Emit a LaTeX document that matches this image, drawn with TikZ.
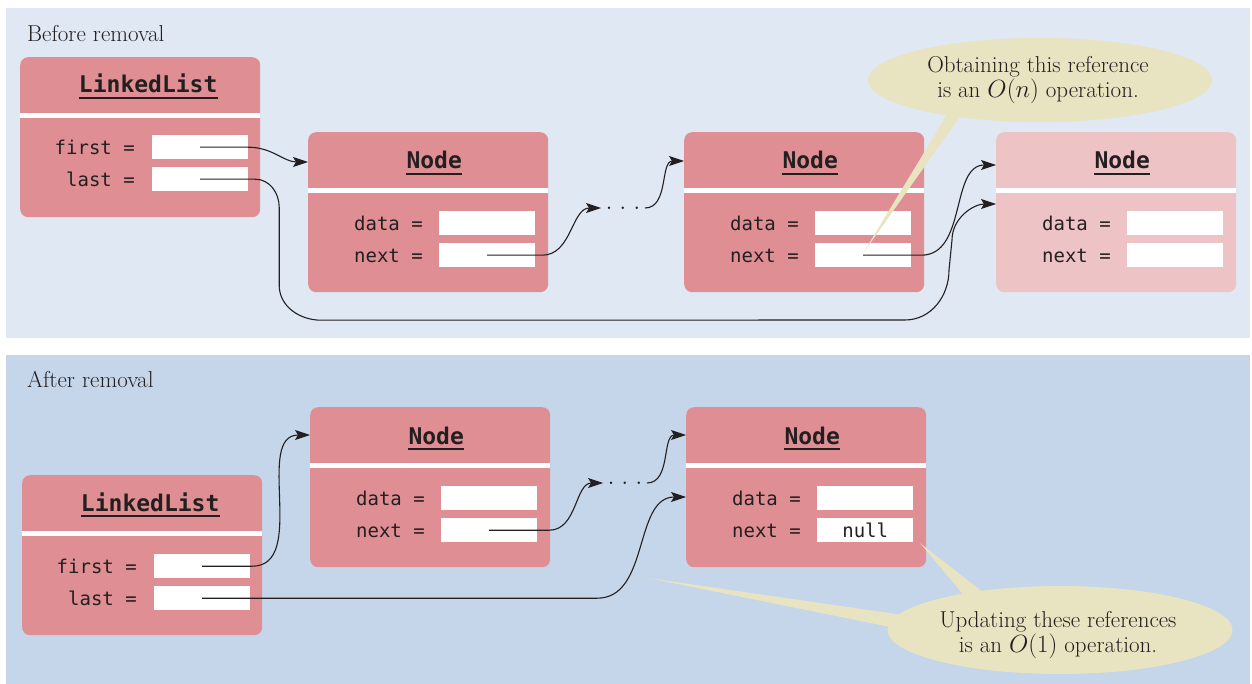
\documentclass[tikz,border=0pt]{standalone}
\usepackage{fontspec}
\setmonofont{DejaVu Sans Mono}
\usepackage{tikz}
\usetikzlibrary{positioning, shapes.geometric, arrows.meta, calc}
\definecolor{panelTop}{HTML}{E0E8F3}
\definecolor{panelBottom}{HTML}{C5D5EA}
\definecolor{boxRed}{HTML}{DF8F94}
\definecolor{boxPale}{HTML}{EEC3C5}
\definecolor{calloutTan}{HTML}{E8E3C1}
\definecolor{ink}{HTML}{231F20}

\begin{document}
\begin{tikzpicture}[x=1pt, y=-1pt,
  objbox/.style={fill=boxRed, rounded corners=8pt, minimum width=240pt,
                 minimum height=160pt, inner sep=0pt, anchor=north west},
  ghostbox/.style={objbox, fill=boxPale},
  classname/.style={font=\ttfamily\bfseries\fontsize{23}{26}\selectfont,
                    text=ink, inner sep=0pt, anchor=base},
  fieldname/.style={font=\ttfamily\fontsize{19}{22}\selectfont,
                    text=ink, inner sep=0pt, anchor=base east},
  slot/.style={fill=white, minimum width=96pt, minimum height=24pt, inner sep=0pt,
               anchor=north west, font=\ttfamily\fontsize{19}{22}\selectfont, text=ink},
  pointer/.style={draw=ink, line width=1.1pt, -{Stealth[length=15pt, width=10pt, inset=3pt]}},
  bubble/.style={fill=calloutTan, ellipse, inner sep=0pt},
  bubbletext/.style={font=\fontsize{23}{25.5}\selectfont, text=ink, align=center, inner sep=0pt},
  caption/.style={font=\fontsize{23}{26}\selectfont, text=ink, anchor=base west, inner sep=0pt},
  ellipsis/.style={font=\fontsize{30}{30}\selectfont, text=ink, inner sep=0pt}
]
  \useasboundingbox (0,0) rectangle (1252,684);
  \fill[panelTop] (6,8) rectangle (1250,338);
  \fill[panelBottom] (6,355) rectangle (1250,684);

  % before removal
  \node[caption] (capA) at (27,42) {Before removal};
  \node[objbox] (listA) at (20,57) {};
  \node[objbox] (nodeA1) at (308,132) {};
  \node[objbox] (nodeA2) at (684,132) {};
  \node[ghostbox] (nodeA3) at (996,132) {};

  % after removal
  \node[caption] (capB) at (27,387) {After removal};
  \node[objbox] (listB) at (22,475) {};
  \node[objbox] (nodeB1) at (310,407) {};
  \node[objbox] (nodeB2) at (686,407) {};

  \foreach \b in {listA,nodeA1,nodeA2,nodeA3,listB,nodeB1,nodeB2}{
    \fill[white] ([yshift=-56pt]\b.north west) rectangle ([yshift=-61pt]\b.north east);
  }

  \node[classname] (tListA) at ($(listA.north)+(8,36)$) {LinkedList};
  \node[classname] (tNodeA1) at ($(nodeA1.north)+(6,37)$) {Node};
  \node[classname] (tNodeA2) at ($(nodeA2.north)+(6,37)$) {Node};
  \node[classname] (tNodeA3) at ($(nodeA3.north)+(6,37)$) {Node};
  \node[classname] (tListB) at ($(listB.north)+(8,36)$) {LinkedList};
  \node[classname] (tNodeB1) at ($(nodeB1.north)+(6,37)$) {Node};
  \node[classname] (tNodeB2) at ($(nodeB2.north)+(6,37)$) {Node};
  \foreach \t in {tListA,tNodeA1,tNodeA2,tNodeA3,tListB,tNodeB1,tNodeB2}{
    \draw[ink, line width=1.3pt] ([yshift=-5pt]\t.base west) -- ([yshift=-5pt]\t.base east);
  }

  % fields
  \node[slot] (firstA) at ($(listA.north west)+(132,78)$) {};
  \node[slot] (lastA) at ($(listA.north west)+(132,110)$) {};
  \node[fieldname] at ($(firstA.west)+(-17,7)$) {first =};
  \node[fieldname] at ($(lastA.west)+(-17,7)$) {last =};
  \foreach \n in {nodeA1,nodeA2,nodeA3,nodeB1}{
    \node[slot] (\n data) at ($(\n.north west)+(131,79)$) {};
    \node[slot] (\n next) at ($(\n.north west)+(131,111)$) {};
    \node[fieldname] at ($(\n data.west)+(-16,7)$) {data =};
    \node[fieldname] at ($(\n next.west)+(-16,7)$) {next =};
  }
  \node[slot] (nodeB2data) at ($(nodeB2.north west)+(131,79)$) {};
  \node[slot] (nodeB2next) at ($(nodeB2.north west)+(131,111)$) {null};
  \node[fieldname] at ($(nodeB2data.west)+(-16,7)$) {data =};
  \node[fieldname] at ($(nodeB2next.west)+(-16,7)$) {next =};
  \node[slot] (firstB) at ($(listB.north west)+(132,79)$) {};
  \node[slot] (lastB) at ($(listB.north west)+(132,111)$) {};
  \node[fieldname] at ($(firstB.west)+(-17,7)$) {first =};
  \node[fieldname] at ($(lastB.west)+(-17,7)$) {last =};

  % callouts
  \node[bubble, minimum width=344pt, minimum height=84pt] (noteA) at (1040,80) {};
  \fill[calloutTan] ($(noteA.center)+(-89,28)$) -- ([yshift=2pt]nodeA2next.center)
    -- ($(noteA.center)+(-74,28)$) -- cycle;
  \node[bubbletext] (noteAtext) at (1038,80) {Obtaining this reference\\is an $O(n)$ operation.};

  \coordinate (tipB) at (648,578);
  \node[bubble, minimum width=345pt, minimum height=88pt] (noteB) at (1060,630) {};
  \fill[calloutTan] ($(noteB.center)+(-94,-32)$) -- ($(nodeB2next.south east)+(7,1)$)
    -- ($(noteB.center)+(-72,-34)$) -- cycle;
  \fill[calloutTan] ($(noteB.center)+(-150,-14)$) -- (tipB)
    -- ($(noteB.center)+(-155,0)$) -- cycle;
  \node[bubbletext] (noteBtext) at (1058,635) {Updating these references\\is an $O(1)$ operation.};

  % pointers, before
  \node[ellipsis] (dotsA) at (623,208) {.\hspace{6.5pt}.\hspace{6.5pt}.};
  \draw[pointer] (firstA.center) -- ++(48,0) to[out=0, in=180] ([yshift=-30pt]nodeA1.north west);
  \draw[pointer] (nodeA1next.center) -- ++(55,0) to[out=0, in=180] ([xshift=-4pt]dotsA.west);
  \draw[pointer] ([xshift=4pt]dotsA.east) to[out=0, in=180] ([yshift=-29pt]nodeA2.north west);
  \draw[pointer] (nodeA2next.center) -- ++(58,0) to[out=0, in=180] ([yshift=-33pt]nodeA3.north west);
  \draw[pointer] (lastA.center) -- ++(55,0) to[out=0, in=90] ++(24,28) -- ++(0,78)
    to[out=-90, in=180] ++(42,35) -- (905,320) to[out=0, in=-90] ++(44,-50)
    -- ++(3,-30) to[out=90, in=180] ([yshift=-72pt]nodeA3.north west);

  % pointers, after
  \node[ellipsis] (dotsB) at (625,483) {.\hspace{6.5pt}.\hspace{6.5pt}.};
  \draw[pointer] (firstB.center) -- ++(50,0) to[out=0, in=180] ([yshift=-28pt]nodeB1.north west);
  \draw[pointer] (nodeB1next.center) -- ++(60,0) to[out=0, in=180] ([xshift=-4pt]dotsB.west);
  \draw[pointer] ([xshift=4pt]dotsB.east) to[out=0, in=180] ([yshift=-28pt]nodeB2.north west);
  \draw[pointer] (lastB.center) -- ++(395,0) to[out=0, in=180] ([yshift=-90pt]nodeB2.north west);
\end{tikzpicture}
\end{document}
